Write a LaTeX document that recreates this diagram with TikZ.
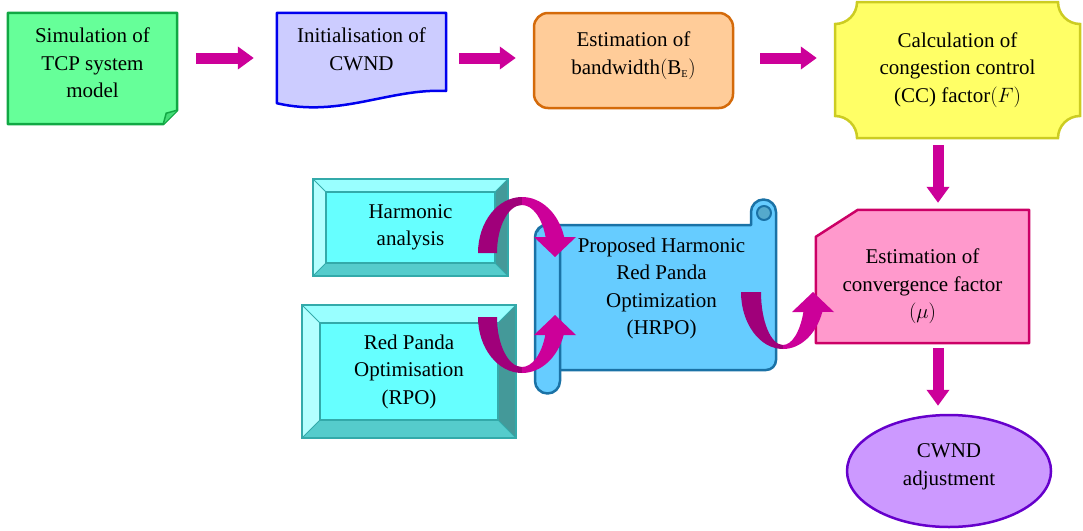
\documentclass[tikz,border=0pt]{standalone}
\usepackage{amsmath}
\usepackage{fontspec}
\setmainfont{Liberation Serif}
\usepackage{xcolor}
\usetikzlibrary{arrows.meta,shapes.geometric,calc}
\definecolor{arrowmag}{HTML}{CC0099}
\definecolor{arrowdark}{HTML}{A0007A}
\definecolor{simfill}{HTML}{66FF99}
\definecolor{simdraw}{HTML}{11A844}
\definecolor{simfold}{HTML}{44DD77}
\definecolor{initfill}{HTML}{CCCCFF}
\definecolor{initdraw}{HTML}{0000EE}
\definecolor{bandfill}{HTML}{FFCC99}
\definecolor{banddraw}{HTML}{D46A0A}
\definecolor{calcfill}{HTML}{FFFF66}
\definecolor{calcdraw}{HTML}{CCCC22}
\definecolor{convfill}{HTML}{FF99CC}
\definecolor{convdraw}{HTML}{CC0066}
\definecolor{adjfill}{HTML}{CC99FF}
\definecolor{adjdraw}{HTML}{6600CC}
\definecolor{bevface}{HTML}{66FFFF}
\definecolor{bevtopc}{HTML}{99FFFF}
\definecolor{bevleftc}{HTML}{B3FFFF}
\definecolor{bevbotc}{HTML}{55CCCC}
\definecolor{bevrightc}{HTML}{449999}
\definecolor{bevedge}{HTML}{33AAAA}
\definecolor{scrollfill}{HTML}{66CCFF}
\definecolor{scrolldraw}{HTML}{1A72A6}
\definecolor{curlfill}{HTML}{55AACC}

\begin{document}
\begin{tikzpicture}[x=1pt,y=-1pt,
  txt/.style={align=center,inner sep=0pt,font=\fontsize{21}{27.5}\selectfont},
  frame/.style={draw=none,inner sep=0pt},
  blockarrow/.style={draw=arrowmag,line width=11pt,-{Triangle[length=16pt,width=22pt]}},
  bevline/.style={draw=bevedge,line width=2pt},
  scroll/.style={fill=scrollfill,draw=scrolldraw,line width=2.5pt,line join=round}]
\useasboundingbox (0,0) rectangle (1083,530);

% top row
\node[frame,minimum width=169pt,minimum height=111pt] (sim) at (92.5,68.5) {};
\filldraw[fill=simfill,draw=simdraw,line width=2.5pt,line join=round]
  (sim.north west) -- (sim.north east) -- ([yshift=14pt]sim.south east)
  -- ([xshift=-14pt]sim.south east) -- (sim.south west) -- cycle;
\filldraw[fill=simfold,draw=simdraw,line width=1.5pt,line join=round]
  ([xshift=-14pt]sim.south east) -- ([xshift=-11pt,yshift=11pt]sim.south east) -- ([yshift=14pt]sim.south east);
\node[txt] (simtext) at ([yshift=5.5pt]sim.center) {Simulation of\\TCP system\\model};

\node[frame,minimum width=169pt,minimum height=90pt] (init) at (361.5,58) {};
\filldraw[fill=initfill,draw=initdraw,line width=2.5pt,line join=round]
  (init.south west) -- (init.north west) -- (init.north east) -- (446,91)
  .. controls (390,88) and (340,118) .. (init.south west) -- cycle;
\node[txt] (inittext) at ([yshift=8.5pt]init.center) {Initialisation of\\CWND};

\node[frame,minimum width=199pt,minimum height=95pt,rounded corners=14pt,
  fill=bandfill,draw=banddraw,line width=2.5pt] (band) at (633.5,60.5) {};
\node[txt] (bandtext) at ([yshift=5pt]band.center)
  {Estimation of\\bandwidth$\left(\textrm{B}_{\scriptscriptstyle\textrm{E}}\right)$};

\node[frame,minimum width=245pt,minimum height=136pt] (calc) at (957.5,70) {};
\filldraw[fill=calcfill,draw=calcdraw,line width=2.5pt]
  (835,24) arc[start angle=90,end angle=0,radius=22] -- (1058,2)
  arc[start angle=180,end angle=90,radius=22] -- (1080,116)
  arc[start angle=270,end angle=180,radius=22] -- (857,138)
  arc[start angle=0,end angle=-90,radius=22] -- cycle;
\node[txt] (calctext) at (calc.center)
  {Calculation of\\congestion control\\(CC) factor$\left(F\right)$};

% right column
\node[frame,minimum width=213pt,minimum height=133pt] (conv) at (922.5,276.5) {};
\filldraw[fill=convfill,draw=convdraw,line width=2.5pt,line join=round]
  (conv.south west) -- ([yshift=-27pt]conv.north west) -- ([xshift=42pt]conv.north west)
  -- (conv.north east) -- (conv.south east) -- cycle;
\node[txt] (convtext) at ([yshift=-10pt]conv.center)
  {Estimation of\\convergence factor\\$\left(\mu\right)$};

\node[ellipse,minimum width=204pt,minimum height=112pt,fill=adjfill,draw=adjdraw,
  line width=2.5pt] (adj) at (949,471) {};
\node[txt] (adjtext) at ([yshift=4pt]adj.center) {CWND\\adjustment};

% bevelled boxes
\node[frame,minimum width=195pt,minimum height=97pt] (harm) at (410.5,227.5) {};
\node[frame,minimum width=214pt,minimum height=133pt] (rpo) at (409,371.5) {};
\foreach \n/\s in {harm/13pt,rpo/18pt}{
  \fill[bevtopc] (\n.north west) -- (\n.north east) -- ([shift={(-\s,-\s)}]\n.north east)
    -- ([shift={(\s,-\s)}]\n.north west) -- cycle;
  \fill[bevleftc] (\n.north west) -- ([shift={(\s,-\s)}]\n.north west)
    -- ([shift={(\s,\s)}]\n.south west) -- (\n.south west) -- cycle;
  \fill[bevbotc] (\n.south west) -- ([shift={(\s,\s)}]\n.south west)
    -- ([shift={(-\s,\s)}]\n.south east) -- (\n.south east) -- cycle;
  \fill[bevrightc] (\n.south east) -- ([shift={(-\s,\s)}]\n.south east)
    -- ([shift={(-\s,-\s)}]\n.north east) -- (\n.north east) -- cycle;
  \filldraw[bevline,fill=bevface] ([shift={(\s,-\s)}]\n.north west) rectangle ([shift={(-\s,\s)}]\n.south east);
  \draw[bevline,line width=1pt] (\n.north west) -- ++(\s,-\s) (\n.north east) -- ++(-\s,-\s)
    (\n.south west) -- ++(\s,\s) (\n.south east) -- ++(-\s,\s);
  \draw[bevline] (\n.north west) rectangle (\n.south east);
}
\node[txt] (harmtext) at (harm.center) {Harmonic\\analysis};
\node[txt] (rpotext) at (rpo.center) {Red Panda\\Optimisation\\(RPO)};

% scroll
\node[frame,minimum width=219pt,minimum height=145pt] (hrpo) at (666.5,297.5) {};
\filldraw[scroll] (548,225) -- (751,225) -- (751,212) arc[start angle=180,end angle=360,radius=12.5]
  -- (776,360) arc[start angle=0,end angle=90,radius=10] -- (548,370) -- cycle;
\filldraw[scroll,fill=curlfill,line width=2pt] (764,213) circle[radius=7];
\filldraw[scroll] (560,237) -- (560,381) arc[start angle=0,end angle=180,radius=12.5]
  -- (535,237) arc[start angle=180,end angle=360,radius=12.5] -- cycle;
\draw[scroll,fill=none,line width=2pt] (537,232) arc[start angle=200,end angle=340,radius=10.5];
\node[txt] (hrpotext) at ([xshift=-5pt,yshift=9pt]hrpo.center)
  {Proposed Harmonic\\Red Panda\\Optimization\\(HRPO)};

% straight arrows
\coordinate (col) at (938,0);
\draw[blockarrow,shorten <=19pt,shorten >=23pt] (sim.east |- init.west) -- (init.west);
\draw[blockarrow,shorten <=13pt,shorten >=17pt] (init.east) -- (band.west |- init.east);
\draw[blockarrow,shorten <=26pt,shorten >=18pt] (band.east |- init.east) -- (calc.west |- init.east);
\draw[blockarrow,shorten <=7pt,shorten >=7pt] (calc.south -| col) -- (conv.north -| col);
\draw[blockarrow,shorten <=5pt,shorten >=8pt] (conv.south -| col) -- (adj.north -| col);

% curved arrows
\fill[arrowdark] (478,253) arc[start angle=180,end angle=270,x radius=44,y radius=56]
  -- (522,205) arc[start angle=270,end angle=180,x radius=25,y radius=48] -- cycle;
\fill[arrowmag] (522,197) arc[start angle=270,end angle=343.4,x radius=44,y radius=56]
  -- (576,237) -- (555,257) -- (534,237) -- (545.6,237)
  arc[start angle=340.5,end angle=270,x radius=25,y radius=48] -- cycle;

\fill[arrowdark] (478,317) arc[start angle=180,end angle=90,x radius=44,y radius=56]
  -- (522,367) arc[start angle=90,end angle=180,x radius=25,y radius=50] -- cycle;
\fill[arrowmag] (522,373) arc[start angle=90,end angle=18.75,x radius=44,y radius=56]
  -- (576,335) -- (555,315) -- (534,335) -- (545.3,335)
  arc[start angle=21.1,end angle=90,x radius=25,y radius=50] -- cycle;

\fill[arrowdark] (741,292) arc[start angle=180,end angle=90,x radius=42,y radius=57]
  -- (783,345) arc[start angle=90,end angle=180,x radius=22,y radius=53] -- cycle;
\fill[arrowmag] (783,349) arc[start angle=90,end angle=20.5,x radius=42,y radius=57]
  -- (834,312) -- (813,292) -- (792,312) -- (803.4,312)
  arc[start angle=22.2,end angle=90,x radius=22,y radius=53] -- cycle;
\end{tikzpicture}
\end{document}
